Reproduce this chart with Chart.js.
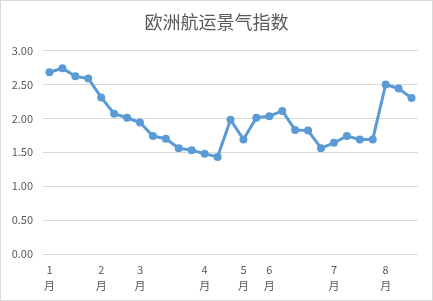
<!DOCTYPE html>
<html><head><meta charset="utf-8">
<script src="https://cdn.jsdelivr.net/npm/chart.js@4/dist/chart.umd.min.js"></script>
<style>html,body{margin:0;padding:0;background:#fff;}#wrap{width:433px;height:301px;position:relative;}</style>
</head><body><div id="wrap"><canvas id="c" width="433" height="301"></canvas></div>
<script>
const title = '欧洲航运景气指数';
const categories = [['1','月'],'','','',['2','月'],'','',['3','月'],'','','','',['4','月'],'','',['5','月'],'',['6','月'],'','','','',['7','月'],'','','',['8','月'],'',''];
const values = [2.68,2.74,2.62,2.59,2.31,2.07,2.01,1.94,1.74,1.70,1.56,1.53,1.48,1.43,1.98,1.69,2.01,2.03,2.11,1.83,1.82,1.56,1.64,1.74,1.69,1.69,2.50,2.44,2.30];
const yMin = 0, yMax = 3, yStep = 0.5;

const frame = {id:'frame', beforeDraw(ch){const c=ch.ctx;c.save();c.fillStyle='#fff';c.fillRect(0,0,ch.width,ch.height);c.strokeStyle='#D9D9D9';c.lineWidth=1;c.strokeRect(0.5,0.5,ch.width-1,ch.height-1);c.restore();}};

new Chart(document.getElementById('c'), {
  type:'line',
  data:{labels:categories, datasets:[{data:values, borderColor:'#5B9BD5', backgroundColor:'#5B9BD5', borderWidth:3, pointRadius:4, pointHoverRadius:4, pointBorderWidth:0, tension:0}]},
  options:{
    responsive:false, animation:false, devicePixelRatio:1,
    layout:{padding:{left:0,right:0,top:0,bottom:0}},
    plugins:{legend:{display:false}, tooltip:{enabled:false},
      title:{display:true, text:title, color:'#595959', font:{family:'"Noto Sans CJK SC"', size:18, weight:'normal', lineHeight:1.2}, padding:{top:11,bottom:18}}},
    scales:{
      x:{offset:true, grid:{display:false, drawTicks:false}, border:{display:false},
        ticks:{autoSkip:false, maxRotation:0, minRotation:0, padding:8, color:'#595959', font:{family:'"Noto Sans CJK SC"', size:11, lineHeight:'16px'}},
        afterFit(s){s.height=47;}},
      y:{min:yMin, max:yMax, grid:{color:'#D9D9D9', drawTicks:false, lineWidth:1}, border:{display:false},
        ticks:{stepSize:yStep, padding:10, color:'#595959', font:{family:'"Noto Sans CJK SC"', size:11}, callback:v=>v.toFixed(2)},
        afterFit(s){s.width=43;}},
      y2:{position:'right', min:yMin, max:yMax, grid:{display:false, drawTicks:false}, border:{display:false},
        ticks:{display:false}, afterFit(s){s.width=15;}}
    }
  },
  plugins:[frame]
});
</script></body></html>
